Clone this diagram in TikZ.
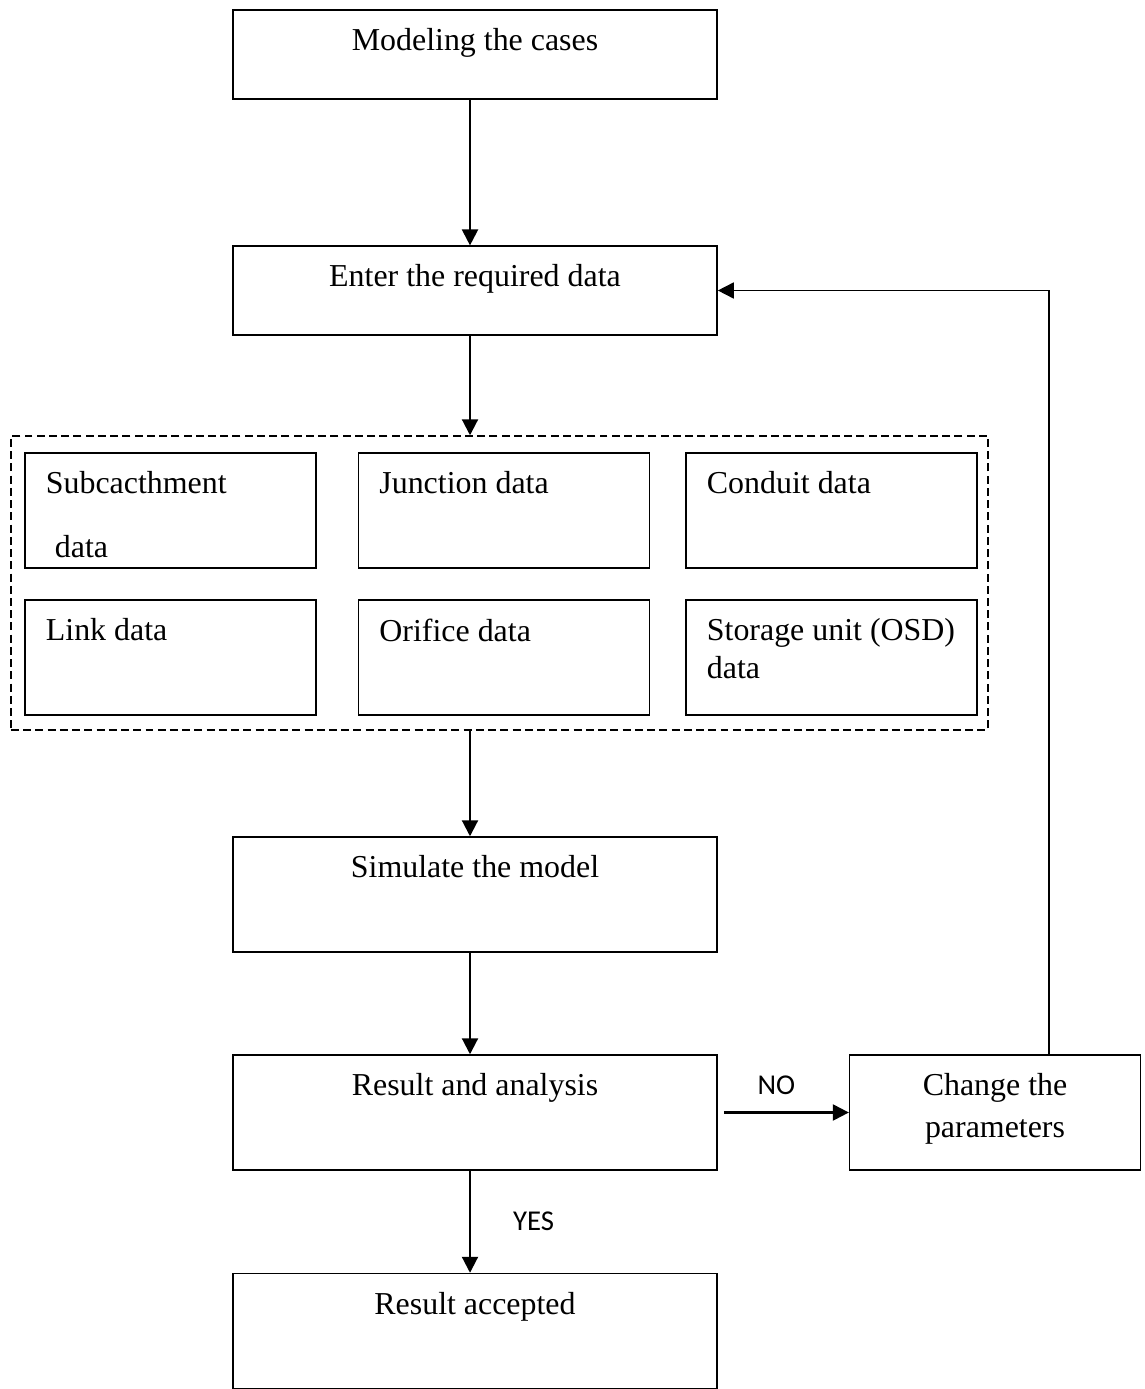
\documentclass[tikz,border=0pt]{standalone}
\usepackage{fontspec}
\setmainfont{Liberation Serif}
\newfontfamily\calibri{Carlito}
\usetikzlibrary{arrows.meta}

\begin{document}
\begin{tikzpicture}[x=0.376pt, y=-0.376pt,
    font=\fontsize{12}{14}\selectfont,
    box/.style={draw, line width=0.6pt, minimum width=182pt, minimum height=33.3pt, inner sep=0pt},
    tallbox/.style={box, minimum height=43.2pt},
    databox/.style={box, minimum width=109.3pt, minimum height=43.2pt},
    intop/.style={anchor=north, yshift=-7.1pt, inner sep=0pt, align=center},
    inwest/.style={anchor=north west, xshift=7.9pt, yshift=-7.1pt, inner sep=0pt, align=left},
    arr/.style={-{Triangle[length=6pt, width=6pt]}, line width=0.8pt},
    yesno/.style={font=\calibri\fontsize{10.8}{13}\selectfont, inner sep=0pt}]

\useasboundingbox (0,0) rectangle (1144,1389);

% main column
\node[box, label={[intop]north:{Modeling the cases}}] (model) at (475,54.5) {};
\node[box, label={[intop]north:{Enter the required data}}] (enter) at (475,290.5) {};

% input data group
\node[draw, dash pattern=on 3pt off 1.6pt, line width=0.6pt,
      minimum width=367.4pt, minimum height=110.5pt] (inputs) at (499.5,583) {};
\node[databox, label={[inwest]north west:{Subcacthment\\[10pt]\hspace*{3.4pt}data}}] (subcatch) at (170.5,510.5) {};
\node[databox, label={[inwest]north west:{Junction data}}] (junction) at (504,510.5) {};
\node[databox, label={[inwest]north west:{Conduit data}}] (conduit) at (831.5,510.5) {};
\node[databox, label={[inwest]north west:{Link data}}] (link) at (170.5,657.5) {};
\node[databox, label={[inwest]north west:{Orifice data}}] (orifice) at (504,657.5) {};
\node[databox, label={[inwest]north west:{Storage unit (OSD)\\data}}] (storage) at (831.5,657.5) {};

\node[tallbox, label={[intop]north:{Simulate the model}}] (simulate) at (475,894.5) {};
\node[tallbox, label={[intop]north:{Result and analysis}}] (result) at (475,1112.5) {};
\node[databox, label={[intop]north:{Change the\\[1.8pt]parameters}}] (change) at (995,1112.5) {};
\node[tallbox, label={[intop]north:{Result accepted}}] (accepted) at (475,1331) {};

% arrows
\coordinate (axis) at (470,0);
\draw[arr] (model.south -| axis) -- (enter.north -| axis);
\draw[arr] (enter.south -| axis) -- (inputs.north -| axis);
\draw[arr] (inputs.south -| axis) -- (simulate.north -| axis);
\draw[arr] (simulate.south -| axis) -- (result.north -| axis);
\draw[arr] (result.south -| axis) -- node[yesno, right=15.8pt] (yes) {YES} (accepted.north -| axis);
\draw[arr] ([xshift=2.3pt]result.east) -- node[yesno, above=6.4pt, pos=0.42] (no) {NO} (change.west);
\draw[arr, line width=0.65pt] ([xshift=20.3pt]change.north) |- (enter.east);

\end{tikzpicture}
\end{document}
